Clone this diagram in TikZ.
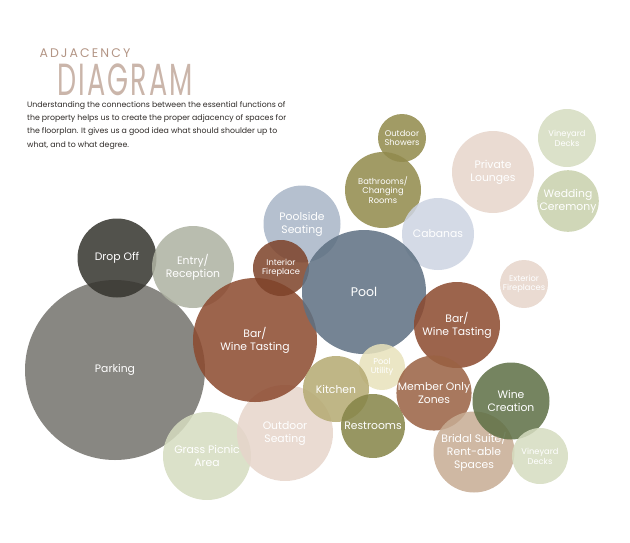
\documentclass[tikz,border=0pt]{standalone}
\usepackage{fontspec}
\usepackage{graphicx}
\setmainfont{Poppins}

\definecolor{titlebrown}{HTML}{B39585}
\definecolor{bodytext}{HTML}{2E2A27}
\definecolor{parkgray}{HTML}{75736D}
\definecolor{dropdark}{HTML}{36352F}
\definecolor{entrysage}{HTML}{AEB2A2}
\definecolor{rust}{HTML}{8C4A2F}
\definecolor{slate}{HTML}{5E7082}
\definecolor{mistblue}{HTML}{A9B6C7}
\definecolor{olive}{HTML}{918A4C}
\definecolor{lavender}{HTML}{CDD4E2}
\definecolor{blush}{HTML}{E6D5CB}
\definecolor{sagelight}{HTML}{D5DCC0}
\definecolor{sagemid}{HTML}{C8D1AC}
\definecolor{paleyellow}{HTML}{E8E2BC}
\definecolor{khaki}{HTML}{B5AA72}
\definecolor{mossy}{HTML}{868548}
\definecolor{cocoa}{HTML}{9A6243}
\definecolor{vinegreen}{HTML}{5E7046}
\definecolor{sand}{HTML}{C7AC94}

\tikzset{
  bubble/.style={circle, inner sep=0pt, fill opacity=0.86, text opacity=1,
    text=white, align=center, font=\fontsize{10.8}{13}\selectfont},
  smalltxt/.style={font=\fontsize{8.3}{9.8}\selectfont}
}

\begin{document}
\begin{tikzpicture}[x=1pt,y=-1pt]
\useasboundingbox (0,0) rectangle (630,542);

% title
\node[anchor=west, text=titlebrown, font=\fontsize{12.5}{14}\selectfont] (adj) at (36,53) {A\,D\,J\,A\,C\,E\,N\,C\,Y};
\node[anchor=base west, inner sep=0pt, text=titlebrown!70, font=\fontsize{45}{45}\selectfont\addfontfeatures{LetterSpace=8}] (diag) at (57,95) {\scalebox{0.6}[1]{DIAGRAM}};
\node[anchor=north west, text=bodytext, inner sep=0pt, align=left,
  font=\fontsize{7.8}{13.3}\selectfont] (intro) at (27,101)
  {Understanding the connections between the essential functions of\\
   the property helps us to create the proper adjacency of spaces for\\
   the floorplan. It gives us a good idea what should shoulder up to\\
   what, and to what degree.};

% bubbles, back to front
\node[bubble, fill=parkgray, minimum size=180] (parking) at (115,370) {Parking};
\node[bubble, fill=dropdark, minimum size=79] (dropoff) at (117,258) {Drop Off};
\node[bubble, fill=entrysage, minimum size=82] (entry) at (193,267) {Entry/\\Reception};
\node[bubble, fill=sagelight, minimum size=88] (picnic) at (207,456) {Grass Picnic\\Area};
\node[bubble, fill=blush, minimum size=96] (outseat) at (285,433) {Outdoor\\Seating};
\node[bubble, fill=rust, minimum size=124] (barleft) at (255,340) {Bar/\\Wine Tasting};
\node[bubble, fill=mistblue, minimum size=77] (poolside) at (302,224) {Poolside\\Seating};
\node[bubble, fill=rust!90!black, smalltxt, minimum size=56] (intfire) at (281,268) {Interior\\Fireplace};
\node[bubble, fill=olive, smalltxt, minimum size=48] (showers) at (402,138) {Outdoor\\Showers};
\node[bubble, fill=olive, smalltxt, minimum size=76] (bath) at (383,190) {Bathrooms/\\Changing\\Rooms};
\node[bubble, fill=lavender, minimum size=72] (cabanas) at (438,234) {Cabanas};
\node[bubble, fill=blush, minimum size=82] (lounges) at (493,172) {Private\\Lounges};
\node[bubble, fill=sagelight, smalltxt, minimum size=58] (decktop) at (567,138) {Vineyard\\Decks};
\node[bubble, fill=sagemid, minimum size=61] (wedding) at (568,201) {Wedding\\Ceremony};
\node[bubble, fill=blush, smalltxt, minimum size=48] (extfire) at (524,284) {Exterior\\Fireplaces};
\node[bubble, fill=slate, font=\fontsize{12.5}{14}\selectfont, minimum size=124] (pool) at (364,292) {Pool};
\node[bubble, fill=rust, minimum size=86] (barright) at (457,325) {Bar/\\Wine Tasting};
\node[bubble, fill=paleyellow, smalltxt, minimum size=46] (utility) at (382,367) {Pool\\Utility};
\node[bubble, fill=khaki, minimum size=66] (kitchen) at (336,389) {Kitchen};
\node[bubble, fill=mossy, minimum size=64] (restrooms) at (373,426) {Restrooms};
\node[bubble, fill=cocoa, minimum size=75] (member) at (434,393) {Member Only\\Zones};
\node[bubble, fill=sand, minimum size=81] (bridal) at (474,452) {Bridal Suite/\\Rent-able\\Spaces};
\node[bubble, fill=vinegreen, minimum size=77] (winecreate) at (511,401) {Wine\\Creation};
\node[bubble, fill=sagelight, smalltxt, minimum size=56] (deckbot) at (540,456) {Vineyard\\Decks};
\end{tikzpicture}
\end{document}
